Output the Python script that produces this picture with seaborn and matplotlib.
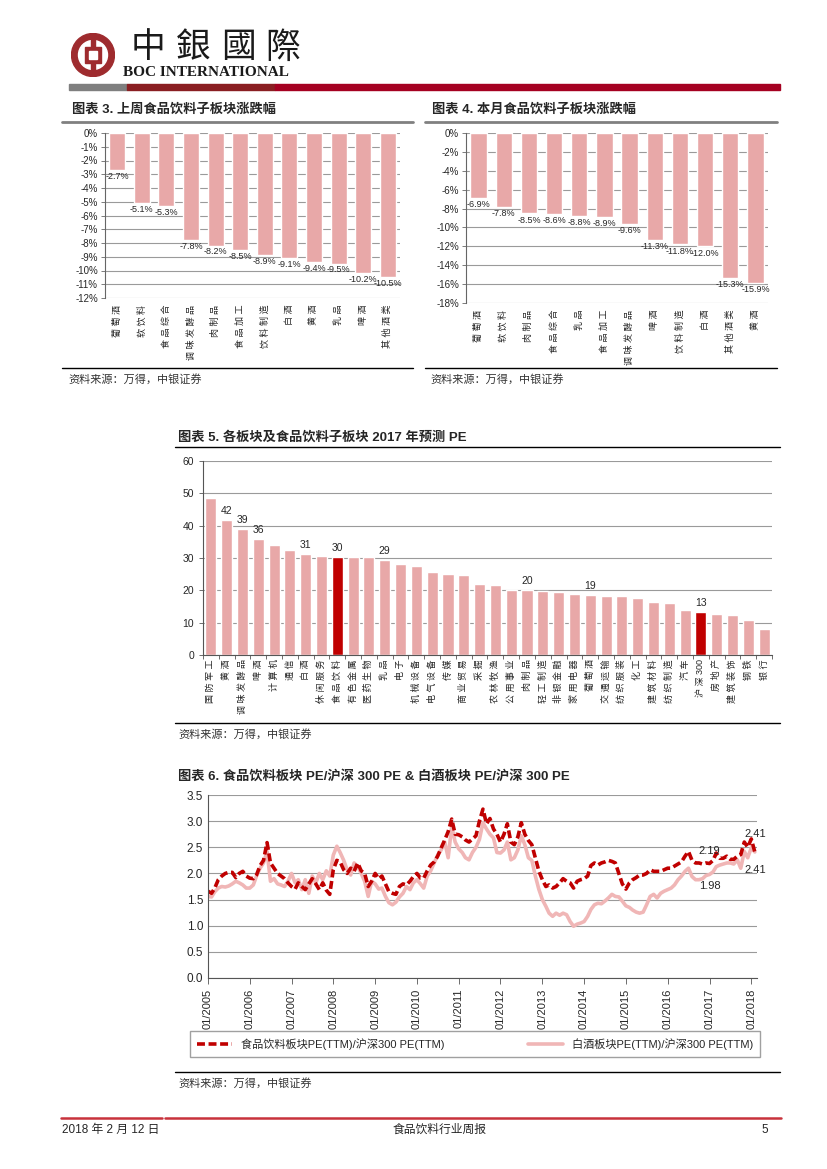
import numpy as np
import pandas as pd
import matplotlib
matplotlib.use("Agg")
import matplotlib.pyplot as plt
import matplotlib.dates as mdates
import seaborn as sns
from matplotlib.lines import Line2D
from matplotlib.patches import Rectangle, Circle

# ---- data -------------------------------------------------------------
week_sectors = ["葡萄酒", "软饮料", "食品综合", "调味发酵品", "肉制品", "食品加工",
                "饮料制造", "白酒", "黄酒", "乳品", "啤酒", "其他酒类"]
week_change = [-2.7, -5.1, -5.3, -7.8, -8.2, -8.5, -8.9, -9.1, -9.4, -9.5, -10.2, -10.5]

month_sectors = ["葡萄酒", "软饮料", "肉制品", "食品综合", "乳品", "食品加工",
                 "调味发酵品", "啤酒", "饮料制造", "白酒", "其他酒类", "黄酒"]
month_change = [-6.9, -7.8, -8.5, -8.6, -8.8, -8.9, -9.6, -11.3, -11.8, -12.0, -15.3, -15.9]

pe_sectors = ["国防军工", "黄酒", "调味发酵品", "啤酒", "计算机", "通信", "白酒", "休闲服务",
              "食品饮料", "有色金属", "医药生物", "乳品", "电子", "机械设备", "电气设备", "传媒",
              "商业贸易", "采掘", "农林牧渔", "公用事业", "肉制品", "轻工制造", "非银金融",
              "家用电器", "葡萄酒", "交通运输", "纺织服装", "化工", "建筑材料", "纺织制造",
              "汽车", "沪深300", "房地产", "建筑装饰", "钢铁", "银行"]
pe_2017 = [48.7, 41.7, 38.9, 35.9, 34.0, 32.4, 31.2, 30.7, 30.4, 30.3, 30.2, 29.4, 28.1,
           27.5, 25.6, 25.1, 24.8, 22.0, 21.7, 20.1, 20.0, 19.8, 19.4, 18.9, 18.7, 18.4,
           18.3, 17.7, 16.3, 16.2, 13.9, 13.2, 12.6, 12.4, 10.8, 7.9]
pe_labeled = ["黄酒", "调味发酵品", "啤酒", "白酒", "食品饮料", "乳品", "肉制品", "葡萄酒", "沪深300"]
pe_highlight = ["食品饮料", "沪深300"]

# monthly, 01/2005 .. 02/2018
food_ratio = [
    1.66, 1.62, 1.72, 1.88, 1.95, 2.00, 2.02, 2.02, 1.92, 2.00, 2.04, 1.95,  # 2005
    1.91, 1.90, 1.97, 2.15, 2.25, 2.59, 2.20, 2.10, 2.00, 1.95, 1.90, 1.82,  # 2006
    1.75, 1.70, 1.82, 1.75, 1.69, 1.80, 1.90, 1.80, 1.69, 1.82, 1.68, 1.60,  # 2007
    2.07, 2.25, 2.22, 2.07, 2.00, 2.10, 2.04, 2.20, 2.05, 2.00, 1.75, 1.85,  # 2008
    2.00, 1.90, 1.95, 1.80, 1.65, 1.62, 1.60, 1.75, 1.80, 1.78, 1.85, 1.94,  # 2009
    2.00, 1.91, 1.91, 2.05, 2.16, 2.22, 2.33, 2.49, 2.64, 2.80, 3.04, 2.75,  # 2010
    2.74, 2.70, 2.64, 2.60, 2.66, 2.72, 3.00, 3.23, 2.95, 3.05, 2.85, 2.75,  # 2011
    2.60, 2.75, 2.95, 2.60, 2.55, 2.70, 2.97, 2.75, 2.63, 2.55, 2.30, 2.05,  # 2012
    1.88, 1.75, 1.78, 1.72, 1.75, 1.82, 1.90, 1.85, 1.82, 1.72, 1.85, 1.88,  # 2013
    1.90, 1.95, 2.15, 2.20, 2.16, 2.20, 2.22, 2.25, 2.23, 2.20, 2.00, 1.80,  # 2014
    1.70, 1.82, 1.88, 1.92, 1.97, 1.97, 2.00, 2.07, 2.04, 2.04, 2.04, 2.07,  # 2015
    2.10, 2.10, 2.14, 2.18, 2.22, 2.33, 2.42, 2.25, 2.20, 2.20, 2.18, 2.20,  # 2016
    2.19, 2.25, 2.39, 2.29, 2.29, 2.33, 2.27, 2.27, 2.33, 2.36, 2.60, 2.50,  # 2017
    2.66, 2.41,                                                              # 2018
]
baijiu_ratio = [
    1.56, 1.55, 1.65, 1.72, 1.75, 1.74, 1.76, 1.80, 1.85, 1.82, 1.78, 1.72,  # 2005
    1.72, 1.78, 1.95, 2.10, 2.20, 2.42, 1.85, 1.90, 1.80, 1.78, 1.75, 1.85,  # 2006
    2.00, 1.82, 1.88, 1.69, 1.88, 1.62, 1.95, 1.82, 2.00, 1.88, 2.05, 1.95,  # 2007
    2.35, 2.52, 2.40, 2.25, 2.07, 1.97, 2.20, 2.13, 2.00, 1.85, 1.56, 1.85,  # 2008
    1.80, 1.70, 1.72, 1.56, 1.44, 1.40, 1.45, 1.55, 1.62, 1.75, 1.69, 1.82,  # 2009
    1.88, 1.80, 1.72, 1.95, 2.05, 2.20, 2.35, 2.45, 2.60, 2.30, 2.90, 2.60,  # 2010
    2.47, 2.40, 2.30, 2.26, 2.40, 2.50, 2.65, 2.97, 2.85, 2.75, 2.68, 2.40,  # 2011
    2.39, 2.45, 2.60, 2.26, 2.30, 2.45, 2.72, 2.55, 2.30, 2.25, 1.95, 1.70,  # 2012
    1.50, 1.37, 1.24, 1.18, 1.24, 1.20, 1.24, 1.21, 1.08, 0.99, 1.03, 1.05,  # 2013
    1.08, 1.18, 1.31, 1.40, 1.43, 1.42, 1.47, 1.53, 1.60, 1.56, 1.55, 1.47,  # 2014
    1.38, 1.35, 1.30, 1.26, 1.24, 1.26, 1.40, 1.56, 1.60, 1.53, 1.62, 1.66,  # 2015
    1.69, 1.72, 1.78, 1.88, 1.95, 2.04, 2.10, 1.94, 1.88, 1.88, 1.90, 1.96,  # 2016
    1.98, 2.03, 2.13, 2.16, 2.18, 2.20, 2.20, 2.18, 2.26, 2.10, 2.42, 2.30,  # 2017
    2.49, 2.41,                                                              # 2018
]
ratio_dates = pd.date_range("2005-01-01", periods=len(food_ratio), freq="MS")

# ---- style --------------------------------------------------------------
sns.set_style("white")
plt.rcParams["font.family"] = ["Liberation Sans", "Noto Sans CJK SC"]
plt.rcParams["axes.unicode_minus"] = False

PINK = "#E8A8A8"
RED = "#C00000"
LINE_PINK = "#F0B6B6"
GRID = "#9a9a9a"

W, H = 827, 1169
fig = plt.figure(figsize=(W / 100, H / 100), dpi=100)


def box(x0, y0, x1, y1):
    return [x0 / W, 1 - y1 / H, (x1 - x0) / W, (y1 - y0) / H]


def hline(x0, x1, y, color, lw):
    fig.add_artist(Line2D([x0 / W, x1 / W], [1 - y / H] * 2, color=color, lw=lw,
                          transform=fig.transFigure))


def ftext(x, y, s, **kw):
    fig.text(x / W, 1 - y / H, s, va="center", **kw)


def spaced(label):
    # open up the CJK characters a little, like the original axis labels
    out = label[0]
    for a, b in zip(label, label[1:]):
        if ord(a) > 0x2E80 or ord(b) > 0x2E80:
            out += " "
        out += b
    return out


# ---- header -------------------------------------------------------------
logo = fig.add_axes(box(71, 33, 115, 77))
logo.set_xlim(0, 44)
logo.set_ylim(0, 44)
logo.set_aspect("equal")
logo.axis("off")
logo.add_patch(Circle((22, 22), 21.5, color="#9E2B2E"))
logo.add_patch(Circle((22, 22), 14.5, color="white"))
logo.add_patch(Rectangle((19.8, 0.5), 4.4, 43, color="#9E2B2E"))
logo.add_patch(Rectangle((14, 14), 16, 16, color="#9E2B2E"))
logo.add_patch(Rectangle((18.3, 18.3), 7.4, 7.4, color="white"))

for cx, ch in zip([148, 193, 238, 283], "中銀國際"):
    ftext(cx, 48, ch, ha="center", fontsize=25, family=["Noto Sans CJK TC"], weight=300,
          color="#1a1a1a")
ftext(123, 73, "BOC INTERNATIONAL", ha="left", fontsize=11, family=["Liberation Serif"],
      weight="bold", color="#1a1a1a")
for x0, x1, c in [(69, 127, "#7F7F7F"), (127, 275, "#8A1F22"), (275, 780, "#A50021")]:
    fig.add_artist(Rectangle((x0 / W, 1 - 90 / H), (x1 - x0) / W, 6 / H, color=c,
                             transform=fig.transFigure))


# ---- charts 3 & 4: sub-sector change --------------------------------------
def change_chart(rect, cats, vals, ymin, step):
    ax = fig.add_axes(rect)
    sns.barplot(x=cats, y=vals, ax=ax, color=PINK, width=0.65, saturation=1)
    ax.set_ylim(ymin, 0)
    ticks = np.arange(0, ymin - 0.01, -step)
    ax.set_yticks(ticks)
    ax.set_yticklabels([f"{int(t)}%" for t in ticks])
    ax.set_xlim(-0.5, len(cats) - 0.5)
    ax.yaxis.grid(True, color=GRID, lw=0.8)
    ax.set_axisbelow(True)
    for s in ["top", "right", "bottom"]:
        ax.spines[s].set_visible(False)
    ax.spines["left"].set_color("#666666")
    ax.spines["left"].set_linewidth(0.8)
    ax.tick_params(axis="y", length=3, width=0.6, labelsize=7, pad=2, left=True, color="#666666")
    ax.tick_params(axis="x", length=0, labelsize=6.5, pad=5)
    ax.set_xticks(range(len(cats)))
    ax.set_xticklabels([spaced(c) for c in cats], rotation=90)
    ax.set_xlabel("")
    ax.set_ylabel("")
    for i, v in enumerate(vals):
        ax.text(i, v - 0.12 * step, f"{v:.1f}%", ha="center", va="top", fontsize=6.5)
    return ax


ftext(72, 110, "图表 3. 上周食品饮料子板块涨跌幅", ha="left", fontsize=9.5, weight="bold")
hline(62, 413, 122, "#808080", 2)
change_chart(box(105, 133, 400, 298), week_sectors, week_change, -12, 1)
hline(62, 413, 368, "black", 1)
ftext(68, 379, "资料来源：万得，中银证券", ha="left", fontsize=8, style="italic", color="#333333")

ftext(432, 110, "图表 4. 本月食品饮料子板块涨跌幅", ha="left", fontsize=9.5, weight="bold")
hline(425, 777, 122, "#808080", 2)
change_chart(box(466, 133, 768, 303), month_sectors, month_change, -18, 2)
hline(425, 777, 368, "black", 1)
ftext(430, 379, "资料来源：万得，中银证券", ha="left", fontsize=8, style="italic", color="#333333")

# ---- chart 5: 2017E PE -----------------------------------------------------
ftext(178, 437, "图表 5. 各板块及食品饮料子板块 2017 年预测 PE", ha="left", fontsize=9.5, weight="bold")
hline(175, 780, 447, "black", 1)
ax5 = fig.add_axes(box(203, 461, 772, 655))
pal = {s: (RED if s in pe_highlight else PINK) for s in pe_sectors}
sns.barplot(x=pe_sectors, y=pe_2017, hue=pe_sectors, palette=pal, legend=False,
            ax=ax5, width=0.7, saturation=1)
ax5.set_ylim(0, 60)
ax5.set_yticks(range(0, 61, 10))
ax5.set_xlim(-0.5, len(pe_sectors) - 0.5)
ax5.yaxis.grid(True, color=GRID, lw=0.8)
ax5.set_axisbelow(True)
for s in ["top", "right"]:
    ax5.spines[s].set_visible(False)
for s in ["left", "bottom"]:
    ax5.spines[s].set_color("#555555")
    ax5.spines[s].set_linewidth(0.8)
ax5.set_xticks(range(len(pe_sectors)))
ax5.set_xticklabels([spaced(s) for s in pe_sectors], rotation=90)
ax5.set_xticks(np.arange(-0.5, len(pe_sectors), 1), minor=True)
ax5.tick_params(axis="x", which="major", length=0, labelsize=6.5, pad=3)
ax5.tick_params(axis="x", which="minor", length=3, width=0.6, bottom=True, color="#555555")
ax5.tick_params(axis="y", length=3, width=0.6, labelsize=7.5, left=True, color="#555555")
ax5.set_xlabel("")
ax5.set_ylabel("")
for i, (s, v) in enumerate(zip(pe_sectors, pe_2017)):
    if s in pe_labeled:
        ax5.text(i, v + 1.2, f"{v:.0f}", ha="center", va="bottom", fontsize=7.5)
hline(175, 780, 723, "black", 1)
ftext(178, 734, "资料来源：万得，中银证券", ha="left", fontsize=8, style="italic", color="#333333")

# ---- chart 6: relative PE -----------------------------------------------
ftext(178, 776, "图表 6. 食品饮料板块 PE/沪深 300 PE & 白酒板块 PE/沪深 300 PE", ha="left",
      fontsize=9.5, weight="bold")
ax6 = fig.add_axes(box(208, 795, 757, 978))
lbl_food = "食品饮料板块PE(TTM)/沪深300 PE(TTM)"
lbl_baijiu = "白酒板块PE(TTM)/沪深300 PE(TTM)"
sns.lineplot(x=ratio_dates, y=baijiu_ratio, ax=ax6, color=LINE_PINK, lw=2.6, label=lbl_baijiu)
sns.lineplot(x=ratio_dates, y=food_ratio, ax=ax6, color=RED, lw=2.6,
             linestyle=(0, (2.2, 1.0)), label=lbl_food)
ax6.set_ylim(0, 3.5)
ax6.set_yticks(np.arange(0, 3.51, 0.5))
ax6.set_yticklabels([f"{t:.1f}" for t in np.arange(0, 3.51, 0.5)])
ax6.set_xlim(pd.Timestamp("2005-01-01"), pd.Timestamp("2018-02-20"))
ax6.xaxis.set_major_locator(mdates.YearLocator(1, month=1, day=1))
ax6.xaxis.set_major_formatter(mdates.DateFormatter("%m/%Y"))
plt.setp(ax6.get_xticklabels(), rotation=90)
ax6.yaxis.grid(True, color=GRID, lw=0.8)
ax6.set_axisbelow(True)
for s in ["top", "right"]:
    ax6.spines[s].set_visible(False)
for s in ["left", "bottom"]:
    ax6.spines[s].set_color("#555555")
    ax6.spines[s].set_linewidth(0.8)
ax6.tick_params(axis="x", length=4, width=0.6, labelsize=8, bottom=True, color="#555555")
ax6.tick_params(axis="y", length=0, labelsize=8.5)
ax6.set_xlabel("")
ax6.set_ylabel("")
i17 = 144
ax6.text(ratio_dates[i17], food_ratio[i17] + 0.14, f"{food_ratio[i17]:.2f}",
         ha="center", va="bottom", fontsize=8)
ax6.text(ratio_dates[i17], baijiu_ratio[i17] - 0.12, f"{baijiu_ratio[i17]:.2f}",
         ha="center", va="top", fontsize=8)
ax6.text(ratio_dates[-1], food_ratio[-1] + 0.25, f"{food_ratio[-1]:.2f}",
         ha="center", va="bottom", fontsize=8)
ax6.text(ratio_dates[-1], baijiu_ratio[-1] - 0.25, f"{baijiu_ratio[-1]:.2f}",
         ha="center", va="top", fontsize=8)
handles, labels = ax6.get_legend_handles_labels()
ax6.get_legend().remove()
order = [labels.index(lbl_food), labels.index(lbl_baijiu)]
fig.legend([handles[k] for k in order], [labels[k] for k in order], loc="center",
           bbox_to_anchor=(190 / W, 1 - 1058 / H, 570 / W, 28 / H), mode="expand", ncol=2,
           frameon=True, fancybox=False, edgecolor="#888888", fontsize=8, handlelength=3.2,
           borderaxespad=0, borderpad=0.6, columnspacing=6)
hline(175, 780, 1072, "black", 1)
ftext(178, 1083, "资料来源：万得，中银证券", ha="left", fontsize=8, style="italic", color="#333333")

# ---- footer ---------------------------------------------------------------
hline(61, 162, 1118, "#C8323C", 1.8)
hline(165, 781, 1118, "#C8323C", 1.8)
ftext(62, 1130, "2018 年 2 月 12 日", ha="left", fontsize=8.5)
ftext(440, 1130, "食品饮料行业周报", ha="center", fontsize=8.5)
ftext(768, 1130, "5", ha="right", fontsize=8.5)

fig.savefig("out.png", dpi=100)
